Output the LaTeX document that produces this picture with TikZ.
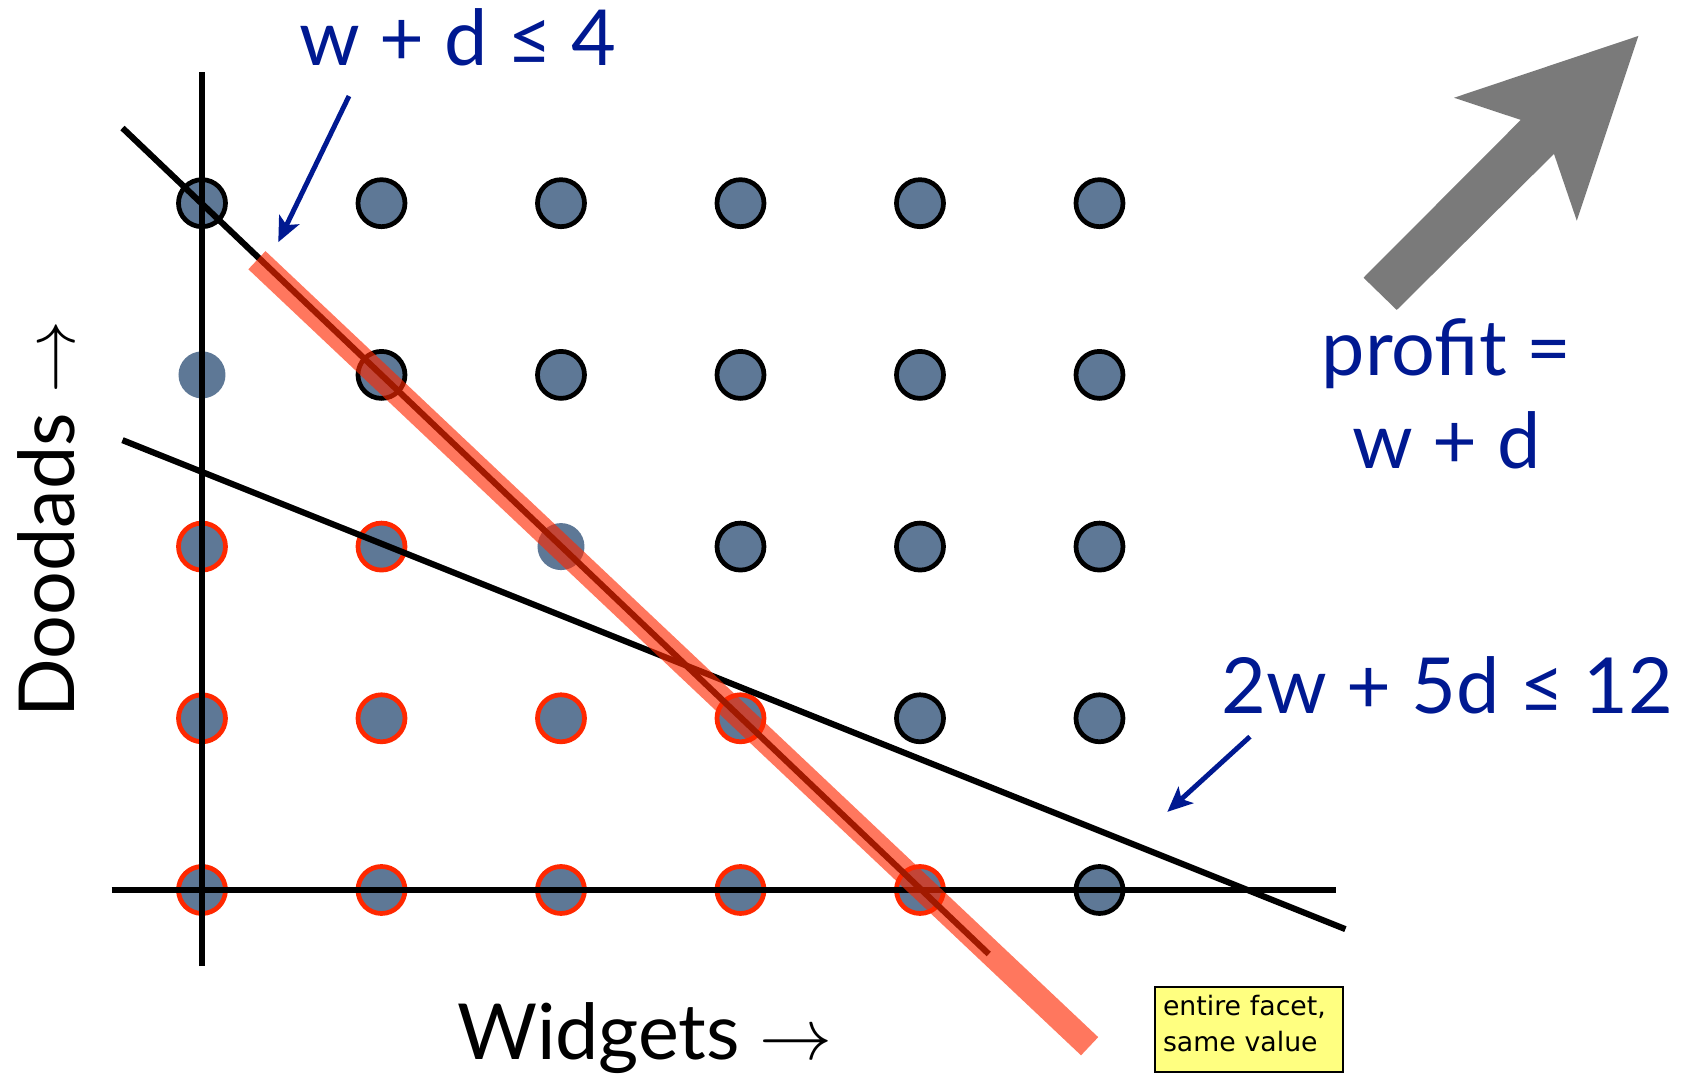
\documentclass[tikz,border=0pt]{standalone}
\usepackage{fontspec}
\setmainfont{Lato}
\newfontfamily\notefont{DejaVu Sans}
\usetikzlibrary{arrows.meta, positioning}
\definecolor{lpblue}{RGB}{0,25,145}
\definecolor{ptfill}{RGB}{94,120,150}
\definecolor{cutred}{RGB}{255,40,0}
\definecolor{gaingray}{RGB}{122,122,122}
\definecolor{noteyellow}{RGB}{255,255,128}

\begin{document}
\begin{tikzpicture}[
    x=1.795cm, y=1.717cm,
    every node/.style={font=\fontsize{22}{26.5}\selectfont},
    pt/.style={circle, fill=ptfill, minimum size=0.47cm, inner sep=0pt},
    outpt/.style={pt, draw=black, line width=1.35pt},
    inpt/.style={pt, draw=cutred, line width=1.35pt},
    bound/.style={line width=1.75pt},
    lbl/.style={text=lpblue},
    >={Stealth[length=0.25cm, width=0.22cm, inset=0.06cm]},
  ]
  \useasboundingbox (-1.1253,-1.0949) rectangle (8.3454,5.1834);

  % lattice points
  \foreach \w/\d in {0/4,1/4,2/4,3/4,4/4,5/4,1/3,2/3,3/3,4/3,5/3,
                     3/2,4/2,5/2,4/1,5/1,5/0}
    \node[outpt] (p\w\d) at (\w,\d) {};
  \foreach \w/\d in {0/3,2/2}
    \node[pt] (p\w\d) at (\w,\d) {};
  \foreach \w/\d in {0/2,1/2,0/1,1/1,2/1,3/1,0/0,1/0,2/0,3/0,4/0}
    \node[inpt] (p\w\d) at (\w,\d) {};

  % axes and constraints
  \draw[bound] (-0.503,0) -- (6.316,0);
  \draw[bound] (0,-0.443) -- (0,4.766);
  \draw[bound] (-0.443,4.438) -- (4.383,-0.373);
  \draw[bound] (-0.443,2.62) -- (6.37,-0.228);
  \draw[line width=0.25cm, cutred, opacity=0.63] (0.306,3.668) -- (4.945,-0.910);

  % objective direction
  \fill[gaingray] (6.471,3.566) -- (7.347,4.485) -- (6.975,4.614) -- (8.002,4.974)
    -- (7.659,3.898) -- (7.532,4.287) -- (6.656,3.378) -- cycle;

  % labels
  \node[lbl, anchor=base] (lim4) at (1.426,4.799) {w + d ≤ 4};
  \node[lbl, anchor=base] (lim12) at (6.938,1.029) {2w + 5d ≤ 12};
  \node[lbl, anchor=base, align=center] (profit) at (6.934,2.456) {profit =\\w + d};
  \node[anchor=base] (xlab) at (2.468,-0.990) {Widgets $\rightarrow$};
  \node[anchor=base, rotate=90] (ylab) at (-0.708,2.161) {Doodads $\rightarrow$};
  \node[draw=black, line width=0.6pt, fill=noteyellow, align=left,
        font=\notefont\fontsize{7.6}{10.3}\selectfont,
        text width=1.72cm, minimum height=0.85cm, inner sep=0.08cm]
    (note) at (5.833,-0.8125) {entire facet,\\same value\rule[-0.13cm]{0pt}{0pt}};

  \coordinate (tail4) at (0.819,4.624);
  \coordinate (tip4) at (0.425,3.773);
  \coordinate (tail12) at (5.838,0.893);
  \coordinate (tip12) at (5.378,0.455);
  \draw[->, lpblue, line width=1.4pt] (tail4) -- (tip4);
  \draw[->, lpblue, line width=1.4pt] (tail12) -- (tip12);
\end{tikzpicture}
\end{document}
